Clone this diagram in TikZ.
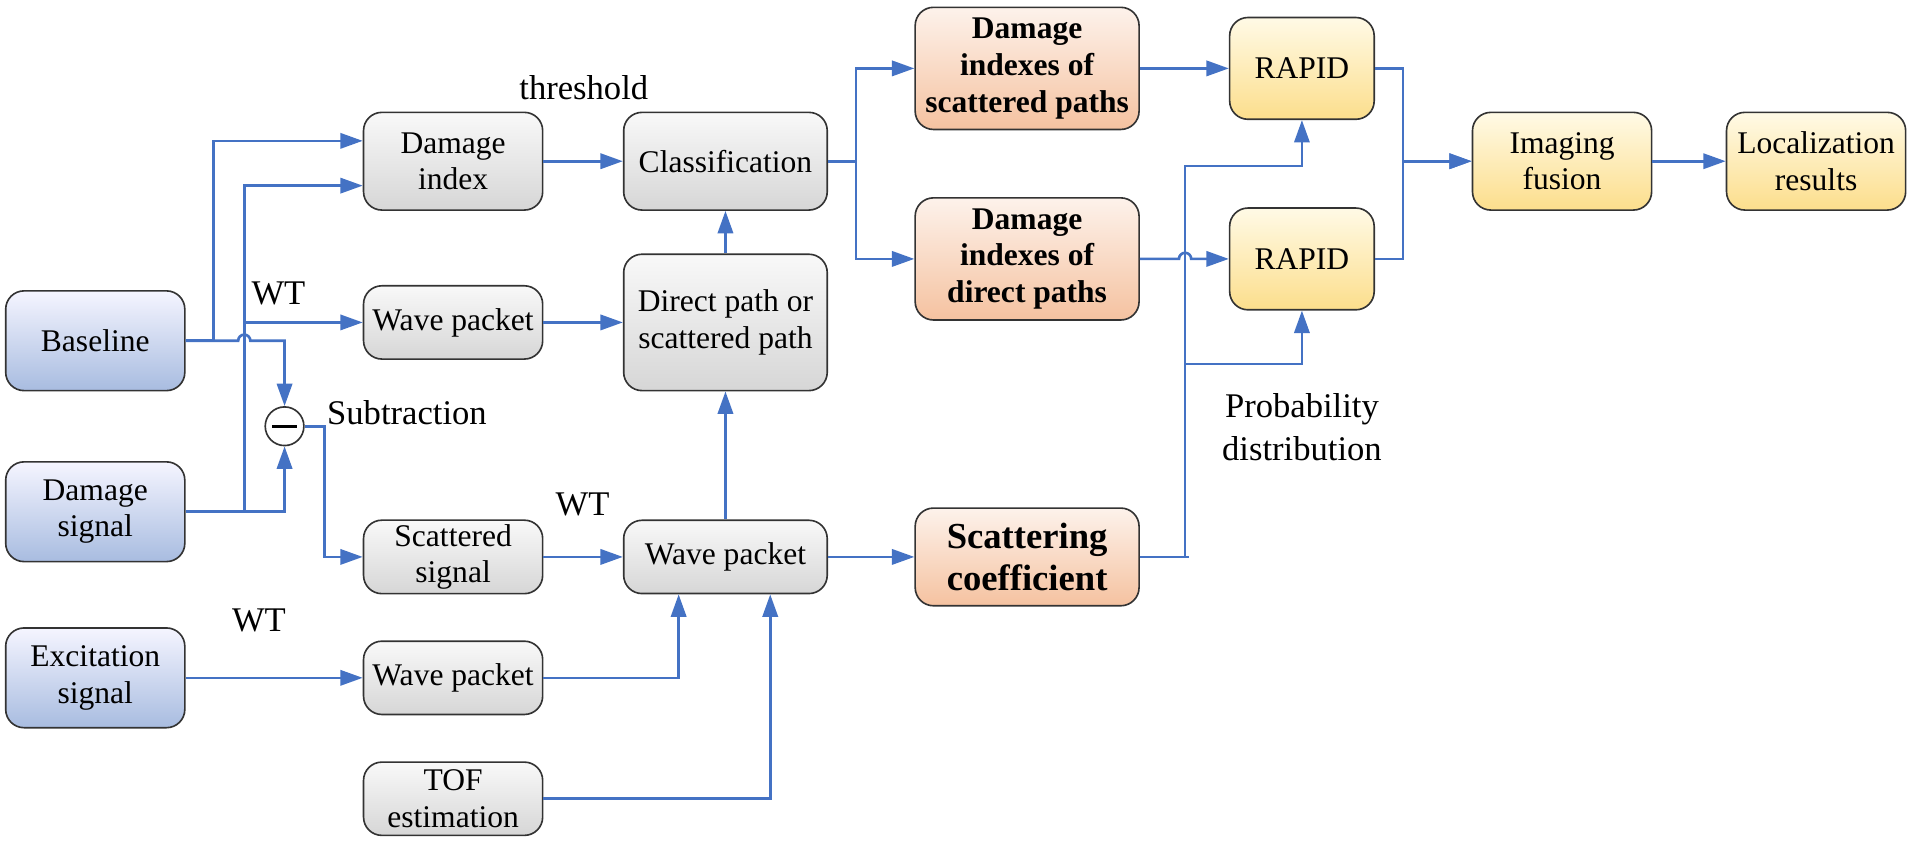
\documentclass[tikz,border=0pt]{standalone}
\usepackage{fontspec}
\setmainfont{Liberation Serif}
\usetikzlibrary{arrows.meta}
\definecolor{linkblue}{HTML}{4472C4}
\tikzset{
  box/.style={draw=black!80, line width=0.8pt, rounded corners=9pt, align=center, inner sep=2pt, font=\fontsize{15.5}{18}\selectfont},
  inbox/.style={box, top color=blue!4, bottom color={rgb,255:red,168;green,188;blue,224}, minimum width=88pt, minimum height=49pt},
  greybox/.style={box, top color=gray!5, bottom color=gray!32, minimum width=88pt, minimum height=48pt},
  resbox/.style={box, top color={rgb,255:red,253;green,242;blue,235}, bottom color={rgb,255:red,245;green,194;blue,160}, minimum width=110pt, minimum height=60pt, font=\fontsize{15.5}{18}\selectfont\bfseries},
  rapidbox/.style={box, top color={rgb,255:red,255;green,250;blue,230}, bottom color={rgb,255:red,252;green,222;blue,140}, minimum width=71pt, minimum height=50pt},
  lbl/.style={font=\fontsize{17}{21}\selectfont, align=center},
  arr/.style={draw=linkblue, line width=1.3pt, -{Triangle[length=11pt,width=7.5pt]}},
  wire/.style={draw=linkblue, line width=1.3pt}
}
\begin{document}
\begin{tikzpicture}[x=0.6pt,y=-0.6pt]
\useasboundingbox (0,0) rectangle (1568,689);
\node[inbox] (base) at (78,279) {Baseline};
\node[inbox] (dmgsig) at (78,419) {Damage\\signal};
\node[inbox] (excit) at (78,555) {Excitation\\signal};
\node[greybox] (dmgidx) at (371,132) {Damage\\index};
\node[greybox, minimum height=36pt] (wpk1) at (371,264) {Wave packet};
\node[greybox, minimum height=36pt] (scat) at (371,456) {Scattered\\signal};
\node[greybox, minimum height=36pt] (wpk2) at (371,555) {Wave packet};
\node[greybox, minimum height=36pt] (tof) at (371,654) {TOF\\estimation};
\node[greybox, minimum width=100pt] (classif) at (594,132) {Classification};
\node[greybox, minimum width=100pt, minimum height=67pt] (dirscat) at (594,264) {Direct path or\\scattered path};
\node[greybox, minimum width=100pt, minimum height=36pt] (wpk3) at (594,456) {Wave packet};
\node[resbox] (discat) at (841,56) {Damage\\indexes of\\scattered paths};
\node[resbox] (didir) at (841,212) {Damage\\indexes of\\direct paths};
\node[resbox, minimum height=48pt, font=\fontsize{18}{21}\selectfont\bfseries] (scoef) at (841,456) {Scattering\\coefficient};
\node[rapidbox] (rapid1) at (1066,56) {RAPID};
\node[rapidbox] (rapid2) at (1066,212) {RAPID};
\node[rapidbox, minimum width=88pt, minimum height=48pt] (fusion) at (1279,132) {Imaging\\fusion};
\node[rapidbox, minimum width=88pt, minimum height=48pt] (local) at (1487,132) {Localization\\results};
\node[draw=black!80, line width=0.8pt, circle, fill=white, minimum size=19pt, inner sep=0pt] (sub) at (233,349) {};
\draw[line width=1.6pt] ([xshift=-6pt]sub.center) -- ([xshift=6pt]sub.center);
\node[lbl] (thr) at (478,72) {threshold};
\node[lbl] (wt1) at (228,240) {WT};
\node[lbl] (wt2) at (477,413) {WT};
\node[lbl] (wt3) at (212,508) {WT};
\node[lbl, anchor=west] (sublbl) at (262,338) {Subtraction};
\node[lbl] (prob) at (1066,350) {Probability\\distribution};
\draw[arr] (base.east) -- ++(23,0) |- ([yshift=10pt]dmgidx.west);
\draw[arr] (dmgsig.east) -- ++(48,0) |- ([yshift=-12pt]dmgidx.west);
\draw[arr] (dmgsig.east) -- ++(48,0) |- (wpk1.west);
\draw[arr] (base.east) -- ++(43,0) arc(180:0:3pt) -| (sub.north);
\draw[arr] (dmgsig.east) -| (sub.south);
\draw[arr] (sub.east) -- ++(16,0) |- (scat.west);
\draw[arr] (excit) -- (wpk2);
\draw[arr] (dmgidx) -- (classif);
\draw[arr] (wpk1) -- (dirscat);
\draw[arr] (dirscat) -- (classif);
\draw[arr] (wpk3) -- (dirscat);
\draw[arr] (scat) -- (wpk3);
\draw[arr] (wpk2.east) -| ([xshift=-23pt]wpk3.south);
\draw[arr] (tof.east) -| ([xshift=22pt]wpk3.south);
\draw[arr] (wpk3) -- (scoef);
\draw[arr] (classif.east) -- ++(23,0) |- (discat.west);
\draw[arr] (classif.east) -- ++(23,0) |- (didir.west);
\draw[arr] (discat) -- (rapid1);
\draw[arr] (didir.east) -- ++(32,0) arc(180:0:3pt) -- (rapid2.west);
\draw[wire] (scoef.east) -- ++(40,0);
\draw[arr] (scoef.east) -| ++(37,-320) -| (rapid1.south);
\draw[arr] (scoef.east) -| ++(37,-158) -| (rapid2.south);
\draw[arr] (rapid1.east) -- ++(23,0) |- (fusion.west);
\draw[arr] (rapid2.east) -- ++(23,0) |- (fusion.west);
\draw[arr] (fusion) -- (local);
\end{tikzpicture}
\end{document}
